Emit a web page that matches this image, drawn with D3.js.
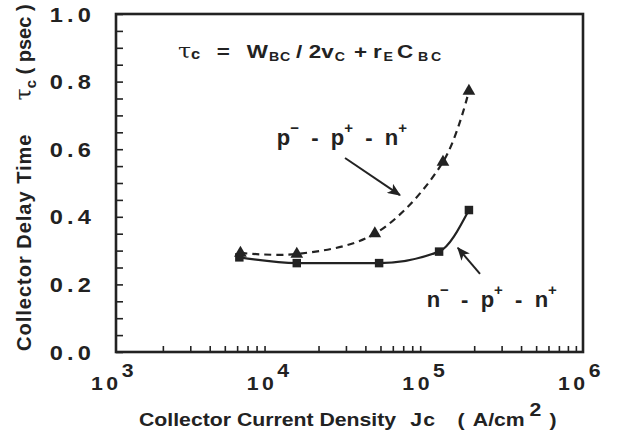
<!DOCTYPE html>
<html><head><meta charset="utf-8">
<script src="https://cdn.jsdelivr.net/npm/d3@7"></script>
<style>
body{margin:0;background:#fff;}
text{font-family:"Liberation Sans",Arial,Helvetica,sans-serif;font-weight:bold;fill:#222;white-space:pre;}
</style></head>
<body><svg id="c" width="621" height="434"></svg>
<script>
// ---- data ----
const jcTri  = [6300, 14500, 46000, 126000, 185000];
const tauTri = [0.293, 0.290, 0.350, 0.562, 0.772];
const jcSq   = [6200, 14500, 49000, 119000, 185000];
const tauSq  = [0.280, 0.263, 0.263, 0.297, 0.420];
const xMajor = [1e3, 1e4, 1e5, 1e6];
const xExp   = ["3", "4", "5", "6"];
const yMajor = [0, 0.2, 0.4, 0.6, 0.8, 1.0];
const yLabels = ["0.0", "0.2", "0.4", "0.6", "0.8", "1.0"];
// annotation anchors (data units)
const arrow1 = [[2.96e4, 0.574], [6.67e4, 0.464]];
const arrow2 = [[2.18e5, 0.231], [1.57e5, 0.308]];

const svg = d3.select("#c");
const W = 621, H = 434;
const m = {l:116, t:14, r:W-583, b:H-352};
const x = d3.scaleLog().domain([1e3, 1e6]).range([m.l, W-m.r]);
const y = d3.scaleLinear().domain([0, 1]).range([H-m.b, m.t]);
const ink = "#222";
const SX = 1.18; // horizontal stretch of the lettering

function stext(px, py, size, anchor) {
  return svg.append("g").attr("transform", `translate(${px},${py}) scale(${SX},1)`)
    .append("text").attr("font-size", size).attr("text-anchor", anchor || "start").attr("fill", ink);
}

// minor ticks
const xMinor = [];
for (let e = 3; e < 6; e++) for (let k = 2; k <= 9; k++) xMinor.push(k * Math.pow(10, e));
const yMinor = d3.range(0, 1.0001, 0.05);

const gx = svg.append("g").attr("transform", `translate(0,${H-m.b})`)
  .call(d3.axisBottom(x).tickValues(xMinor).tickSize(-6).tickFormat(""));
const gy = svg.append("g").attr("transform", `translate(${m.l},0)`)
  .call(d3.axisLeft(y).tickValues(yMinor).tickSize(-7).tickFormat(""));
[gx, gy].forEach(g => { g.select(".domain").remove(); g.selectAll("line").attr("stroke", ink).attr("stroke-width", 1.6); });

// y labels
yMajor.forEach((v, i) => {
  stext(m.l - 21, y(v) + 7.5, 20, "end").attr("letter-spacing", 3.5).text(yLabels[i]);
});

// x labels
xMajor.forEach((v, i) => {
  const t = stext(x(v) - 2, H - m.b + 38, 18, "middle").attr("letter-spacing", 3);
  t.append("tspan").text("10");
  t.append("tspan").attr("dy", -13).text(xExp[i]);
});

// frame
svg.append("rect").attr("x", m.l).attr("y", m.t).attr("width", W-m.l-m.r).attr("height", H-m.t-m.b)
  .attr("fill", "none").attr("stroke", ink).attr("stroke-width", 2.6);

// curves
const lineTri = d3.line().x((d,i) => x(jcTri[i])).y((d,i) => y(tauTri[i])).curve(d3.curveCatmullRom.alpha(0.5));
const lineSq = d3.line().x((d,i) => x(jcSq[i])).y((d,i) => y(tauSq[i])).curve(d3.curveMonotoneX);
svg.append("path").attr("d", lineTri(jcTri)).attr("fill", "none").attr("stroke", ink)
  .attr("stroke-width", 2.2).attr("stroke-dasharray", "7,5");
svg.append("path").attr("d", lineSq(jcSq)).attr("fill", "none").attr("stroke", ink).attr("stroke-width", 2.2);

svg.selectAll(".tri").data(jcTri).join("path").attr("class", "tri")
  .attr("transform", (d,i) => `translate(${x(d)},${y(tauTri[i])})`)
  .attr("d", d3.symbol(d3.symbolTriangle, 70)).attr("fill", ink);
svg.selectAll(".sq").data(jcSq).join("path").attr("class", "sq")
  .attr("transform", (d,i) => `translate(${x(d)},${y(tauSq[i])})`)
  .attr("d", d3.symbol(d3.symbolSquare, 72)).attr("fill", ink);

// arrows
svg.append("defs").append("marker").attr("id", "ah").attr("viewBox", "0 0 12 10")
  .attr("refX", 11).attr("refY", 5).attr("markerWidth", 14).attr("markerHeight", 11)
  .attr("markerUnits", "userSpaceOnUse").attr("orient", "auto")
  .append("path").attr("d", "M0,0 L12,5 L0,10 L3,5 Z").attr("fill", ink);
[arrow1, arrow2].forEach(a => {
  svg.append("line").attr("x1", x(a[0][0])).attr("y1", y(a[0][1]))
    .attr("x2", x(a[1][0])).attr("y2", y(a[1][1]))
    .attr("stroke", ink).attr("stroke-width", 2).attr("marker-end", "url(#ah)");
});

// formula  tau_c = W_BC / 2v_C + r_E C_BC
const f = stext(x(2.5e3), y(0.87), 19);
const parts = [
  // [text, fontSize, dx, baselineShift, serif, letterSpacing]
  ["τ", 20, 0, 0, true, 0],
  ["c", 14, 0, 1, false, 0],
  ["=", 19, 14, 0, false, 0],
  ["W", 19, 14.4, 0, false, 0],
  ["BC", 12, 1, 3, false, 0.5],
  ["/", 19, 4.5, 0, false, 0],
  ["2v", 19, 5.5, 0, false, 0],
  ["C", 12, 1, 3, false, 0],
  ["+", 19, 7.5, 0, false, 0],
  ["r", 19, 5, 0, false, 0],
  ["E", 12, 1.5, 3, false, 0],
  ["C", 19, 3.5, 0, false, 0],
  ["BC", 12, 4, 3, false, 2.5]
];
let prevShift = 0;
parts.forEach(p => {
  const ts = f.append("tspan").attr("font-size", p[1]).attr("dx", p[2]).attr("dy", p[3] - prevShift)
    .attr("letter-spacing", p[5]).text(p[0]);
  if (p[4]) ts.attr("font-family", "DejaVu Serif").attr("font-weight", "normal");
  prevShift = p[3];
});

// region labels
function ionLabel(items, px, py) {
  const t = svg.append("text").attr("x", x(px)).attr("y", y(py)).attr("font-size", 22).attr("fill", ink);
  items.forEach((p, i) => {
    t.append("tspan").text(p[0]);
    t.append("tspan").attr("dy", -12).attr("font-size", 15).text(p[1]);
    t.append("tspan").attr("dy", 12).text(i < items.length - 1 ? "  -  " : "");
  });
}
ionLabel([["p", "−"], ["p", "+"], ["n", "+"]], 1.08e4, 0.612);
ionLabel([["n", "−"], ["p", "+"], ["n", "+"]], 9.9e4, 0.133);

// axis titles
const xt = stext(139, 426, 18);
xt.append("tspan").text("Collector Current Density");
xt.append("tspan").attr("dx", 12).attr("letter-spacing", 1).text("Jc");
xt.append("tspan").attr("dx", 18).text("(");
xt.append("tspan").attr("dx", 7).text("A/cm");
xt.append("tspan").attr("dx", 4).attr("dy", -10).text("2");
xt.append("tspan").attr("dx", 7).attr("dy", 10).text(")");

const yt = svg.append("text").attr("transform", "translate(31,351) rotate(-90)").attr("font-size", 20)
  .attr("fill", ink);
yt.append("tspan").attr("letter-spacing", 1).text("Collector Delay Time");
yt.append("tspan").attr("dx", 33).attr("font-family", "DejaVu Serif").attr("font-weight", "normal").attr("font-size", 22).text("τ");
yt.append("tspan").attr("dy", 5).attr("font-size", 15).text("c");
yt.append("tspan").attr("dy", -5).text(" ( psec )");
</script></body></html>
